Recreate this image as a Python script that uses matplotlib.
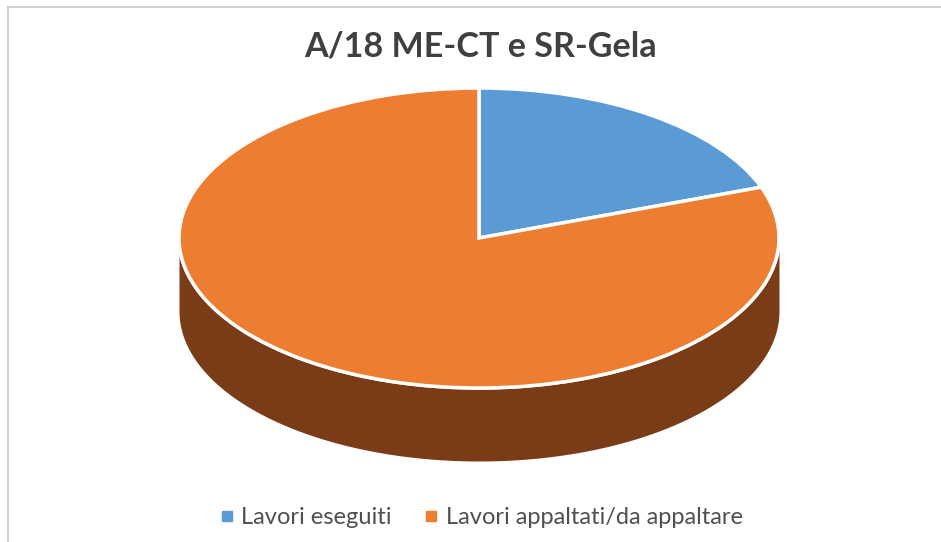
import numpy as np
import matplotlib
matplotlib.use('Agg')
import matplotlib.pyplot as plt
from matplotlib.lines import Line2D

labels = ['Lavori eseguiti', 'Lavori appaltati/da appaltare']
values = [19.5, 80.5]
colors = ['#5b9bd5', '#ed7d31']
title = 'A/18 ME-CT e SR-Gela'

plt.rcParams['font.family'] = ['Lato', 'DejaVu Sans']

W, H = 941, 542
fig = plt.figure(figsize=(W/100, H/100), dpi=100)
ax = fig.add_axes([0, 0, 1, 1])

# top of the pie, squashed into an ellipse
ax.pie(values, colors=colors, startangle=90, counterclock=False, radius=1,
       wedgeprops={'edgecolor': 'white', 'linewidth': 2.5, 'zorder': 3})

# rim of the disc below the front half
depth = 73/150
t = np.linspace(np.pi, 2*np.pi, 200)
ax.fill_between(np.cos(t), np.sin(t), np.sin(t)-depth, color='#7a3c17', lw=0, zorder=1)
ax.plot(np.cos(t), np.sin(t), color='white', lw=2.5, zorder=2)

ax.set_aspect('auto')
ax.set_xlim(-479/300, (W-479)/300)
ax.set_ylim(-(H-238)/150, 238/150)
ax.axis('off')

fig.text(480/W, 1-47/H, title, ha='center', va='center', fontsize=24.6,
         fontweight='bold', color='#404040')

handles = [Line2D([], [], marker='s', ls='', color=c, ms=7) for c in colors]
fig.legend(handles, labels, loc='center', bbox_to_anchor=(480/W, 1-518/H), ncol=2, frameon=False,
           fontsize=17, labelcolor='#505050', handlelength=0.8, handletextpad=0.23, columnspacing=1.25)

# chart frame, only left and top survive the crop
fig.add_artist(Line2D([7.5/W, 7.5/W], [0, 1-6.5/H], color='#c8c8c8', lw=1.2))
fig.add_artist(Line2D([7.5/W, 1], [1-6.5/H, 1-6.5/H], color='#c8c8c8', lw=1.2))

fig.savefig('out.png', dpi=100, facecolor='white')
